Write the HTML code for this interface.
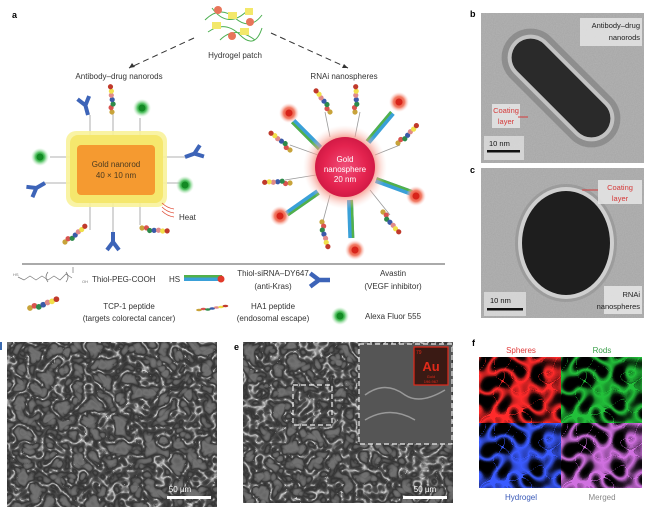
<!DOCTYPE html>
<html><head><meta charset="utf-8"><style>
html,body{margin:0;padding:0;background:#fff;width:650px;height:516px;overflow:hidden}
svg{display:block}
text{font-family:"Liberation Sans",sans-serif}
</style></head><body>
<svg width="650" height="516" viewBox="0 0 650 516" xmlns="http://www.w3.org/2000/svg">
<defs>
<filter id="tem" x="0" y="0" width="100%" height="100%" color-interpolation-filters="sRGB">
 <feTurbulence type="fractalNoise" baseFrequency="0.9" numOctaves="2" seed="3"/>
 <feColorMatrix type="matrix" values="0 0 0 0 0.62  0 0 0 0 0.62  0 0 0 0 0.62  0.7 0 0 0 0"/>
</filter>
<filter id="sem" x="0" y="0" width="100%" height="100%" color-interpolation-filters="sRGB">
 <feTurbulence type="turbulence" baseFrequency="0.07" numOctaves="2" seed="7" result="t"/>
 <feColorMatrix in="t" type="matrix" values="1 0 0 0 0  1 0 0 0 0  1 0 0 0 0  0 0 0 0 1" result="g"/>
 <feComponentTransfer in="g"><feFuncR type="table" tableValues="0.85 0.3 0.2 0.38 0.45 0.43 0.4 0.38 0.36"/><feFuncG type="table" tableValues="0.85 0.3 0.2 0.38 0.45 0.43 0.4 0.38 0.36"/><feFuncB type="table" tableValues="0.85 0.3 0.2 0.38 0.45 0.43 0.4 0.38 0.36"/></feComponentTransfer>
</filter>
<filter id="netR" x="0" y="0" width="100%" height="100%" color-interpolation-filters="sRGB">
 <feTurbulence type="turbulence" baseFrequency="0.06" numOctaves="1" seed="11" result="t"/>
 <feColorMatrix in="t" type="matrix" values="1 0 0 0 0  1 0 0 0 0  1 0 0 0 0  0 0 0 0 1" result="g"/>
 <feComponentTransfer in="g"><feFuncR type="table" tableValues="1 0.7 0.15 0 0 0 0 0 0 0"/><feFuncG type="table" tableValues="1 0.7 0.15 0 0 0 0 0 0 0"/><feFuncB type="table" tableValues="1 0.7 0.15 0 0 0 0 0 0 0"/></feComponentTransfer>
</filter>
<g id="ab"><path d="M0 0 V-10 M0 -10 L-6 -18 M0 -10 L6 -18" stroke="#3d64b8" stroke-width="4" fill="none"/></g>
<g id="beads">
 <circle cx="0" cy="0" r="2.6" fill="#c8a33a"/><circle cx="4" cy="-2" r="2.6" fill="#d9534f"/><circle cx="8" cy="-1" r="2.6" fill="#2d8a4a"/><circle cx="12" cy="-3" r="2.6" fill="#3a5aa8"/><circle cx="16" cy="-5" r="2.6" fill="#e08a8a"/><circle cx="20" cy="-6" r="2.6" fill="#f1e04a"/><circle cx="24" cy="-8" r="2.6" fill="#c0392b"/>
</g>
<radialGradient id="gs"><stop offset="0" stop-color="#1a8a2e"/><stop offset="0.5" stop-color="#4cbf5c"/><stop offset="1" stop-color="#b9e8bd" stop-opacity="0"/></radialGradient>
<radialGradient id="rs"><stop offset="0" stop-color="#e23a2a"/><stop offset="0.55" stop-color="#f27a63"/><stop offset="1" stop-color="#fbd0c8" stop-opacity="0"/></radialGradient>
<radialGradient id="sph"><stop offset="0" stop-color="#f0507a"/><stop offset="0.7" stop-color="#e4234f"/><stop offset="1" stop-color="#d21a45"/></radialGradient>
<radialGradient id="sphg"><stop offset="0.6" stop-color="#f26a5a"/><stop offset="1" stop-color="#fbd4c8" stop-opacity="0"/></radialGradient>
<g id="gstar"><circle r="9" fill="url(#gs)"/><circle r="3.5" fill="#138a24"/></g>
<g id="rstar"><circle r="10" fill="url(#rs)"/><circle r="3.5" fill="#d8241a"/></g>
<g id="sirna"><rect x="0" y="-3" width="38" height="6" fill="#3aa0d8"/><rect x="0" y="-3" width="38" height="2.5" fill="#52b04a"/></g>
</defs>

<text x="12" y="18" font-size="9" font-weight="bold">a</text>
<g stroke="#4caf50" stroke-width="1" fill="none">
<path d="M205 20 Q220 5 235 18 T262 15 M208 32 Q225 20 240 35 T262 28 M212 8 Q228 30 248 10 M220 40 Q235 25 255 40"/>
</g>
<rect x="228" y="12" width="9" height="7" fill="#f3e86a"/><rect x="240" y="28" width="9" height="7" fill="#f3e86a"/><rect x="212" y="22" width="9" height="7" fill="#f3e86a"/><rect x="245" y="8" width="8" height="7" fill="#f3e86a"/>
<circle cx="218" cy="10" r="4" fill="#e8755a"/><circle cx="250" cy="22" r="4" fill="#e8755a"/><circle cx="232" cy="36" r="4" fill="#e8755a"/>
<text x="235" y="58" font-size="8" fill="#333" text-anchor="middle">Hydrogel patch</text>
<path d="M194 38 L129 68" stroke="#333" stroke-width="1" stroke-dasharray="6 4"/>
<path d="M129 68 l6 -1 l-3 -4z" fill="#333"/>
<path d="M271 33 L348 68" stroke="#333" stroke-width="1" stroke-dasharray="6 4"/>
<path d="M348 68 l-6 0 l2 -4z" fill="#333"/>
<text x="119" y="79" font-size="8" fill="#333" text-anchor="middle">Antibody–drug nanorods</text>
<text x="344" y="79" font-size="8" fill="#333" text-anchor="middle">RNAi nanospheres</text>

<g stroke="#999" stroke-width="0.8">
<path d="M90 115 V135 M113 112 V135 M140 118 V135 M163 157 H185 M163 183 H180 M70 157 H50 M70 183 H45 M90 203 V230 M113 203 V235 M140 203 V225"/>
</g>
<rect x="66" y="131" width="101" height="76" rx="10" fill="#f8f29a" opacity="0.9"/>
<rect x="70" y="135" width="93" height="68" rx="8" fill="#f2e04a" opacity="0.6"/>
<rect x="77" y="145" width="78" height="50" rx="4" fill="#f59a30"/>
<text x="116" y="167" font-size="8" fill="#4a3a20" text-anchor="middle">Gold nanorod</text>
<text x="116" y="178" font-size="8" fill="#4a3a20" text-anchor="middle">40 × 10 nm</text>
<use href="#ab" transform="translate(88,115) rotate(-15)"/>
<use href="#beads" transform="translate(112,112) rotate(-75)"/>
<use href="#gstar" x="142" y="108"/>
<use href="#ab" transform="translate(185,157) rotate(70)"/>
<use href="#gstar" x="40" y="157"/>
<use href="#ab" transform="translate(45,183) rotate(-120)"/>
<use href="#gstar" x="185" y="185"/>
<use href="#beads" transform="translate(65,242) rotate(-20)"/>
<use href="#ab" transform="translate(113,232) rotate(180)"/>
<use href="#beads" transform="translate(142,228) rotate(25)"/>
<g stroke="#e0503a" stroke-width="0.8" fill="none"><path d="M162 203 q5 5 12 6 M162 207 q5 5 12 6 M162 211 q5 5 12 6"/></g>
<text x="179" y="220" font-size="8" fill="#333">Heat</text>

<g stroke="#999" stroke-width="0.8">
<path d="M330 137 L325 112 M355 137 L360 112 M318 155 L290 145 M316 175 L285 180 M375 155 L400 145 M370 190 L390 215 M330 195 L322 225"/>
</g>
<use href="#sirna" transform="translate(320,148) rotate(-135)"/>
<use href="#rstar" x="289" y="113"/>
<use href="#sirna" transform="translate(368,142) rotate(-50)"/>
<use href="#rstar" x="399" y="102"/>
<use href="#sirna" transform="translate(376,180) rotate(20)"/>
<use href="#rstar" x="416" y="196"/>
<use href="#sirna" transform="translate(318,192) rotate(145)"/>
<use href="#rstar" x="280" y="216"/>
<use href="#sirna" transform="translate(350,200) rotate(88)"/>
<use href="#rstar" x="355" y="250"/>
<circle cx="345" cy="167" r="42" fill="url(#sphg)"/>
<circle cx="345" cy="167" r="30" fill="url(#sph)"/>
<text x="345" y="162" font-size="8" fill="#fff" text-anchor="middle">Gold</text>
<text x="345" y="172" font-size="8" fill="#fff" text-anchor="middle">nanosphere</text>
<text x="345" y="182" font-size="8" fill="#fff" text-anchor="middle">20 nm</text>
<use href="#beads" transform="translate(330,112) rotate(-105)"/>
<use href="#beads" transform="translate(355,112) rotate(-70)"/>
<use href="#beads" transform="translate(290,150) rotate(-120)"/>
<use href="#beads" transform="translate(290,183) rotate(-160)"/>
<use href="#beads" transform="translate(398,143) rotate(-25)"/>
<use href="#beads" transform="translate(383,212) rotate(70)"/>
<use href="#beads" transform="translate(322,222) rotate(95)"/>

<line x1="22" y1="264" x2="445" y2="264" stroke="#555" stroke-width="1"/>
<path d="M18 277 l6 3 l6 -4 l6 4 l6 -4 l6 4 l6 -4 l6 4 l6 -6 l6 4 M48 272 q-4 5 0 10 M66 272 q4 5 0 10 M73 273 v-6" stroke="#777" stroke-width="0.7" fill="none"/>
<text x="13" y="276" font-size="4" fill="#777">HS</text><text x="82" y="283" font-size="4" fill="#777">OH</text>
<text x="92" y="282" font-size="8" fill="#333">Thiol-PEG-COOH</text>
<text x="169" y="282" font-size="8" fill="#333">HS</text>
<use href="#sirna" transform="translate(184,278)"/>
<circle cx="221" cy="279" r="3.5" fill="#e23a2a"/>
<text x="273" y="276" font-size="8" fill="#333" text-anchor="middle">Thiol-siRNA–DY647</text>
<text x="273" y="289" font-size="8" fill="#333" text-anchor="middle">(anti-Kras)</text>
<use href="#ab" transform="translate(330,280) rotate(-90) scale(1.1)"/>
<text x="393" y="276" font-size="8" fill="#333" text-anchor="middle">Avastin</text>
<text x="393" y="289" font-size="8" fill="#333" text-anchor="middle">(VEGF inhibitor)</text>
<use href="#beads" transform="translate(30,308) scale(1.1)"/>
<text x="129" y="309" font-size="8" fill="#333" text-anchor="middle">TCP-1 peptide</text>
<text x="129" y="321" font-size="8" fill="#333" text-anchor="middle">(targets colorectal cancer)</text>
<use href="#beads" transform="translate(199,310) scale(1.1,0.5)"/>
<text x="273" y="309" font-size="8" fill="#333" text-anchor="middle">HA1 peptide</text>
<text x="273" y="321" font-size="8" fill="#333" text-anchor="middle">(endosomal escape)</text>
<use href="#gstar" x="340" y="316"/>
<text x="365" y="319" font-size="8" fill="#333">Alexa Fluor 555</text>

<text x="470" y="17" font-size="9" font-weight="bold">b</text>
<rect x="481" y="13" width="163" height="150" fill="#b4b4b4"/>
<rect x="481" y="13" width="163" height="150" filter="url(#tem)"/>
<g transform="translate(561,88) rotate(45)">
<rect x="-72" y="-29" width="144" height="58" rx="29" fill="#7a7a7a" opacity="0.6"/>
<rect x="-66" y="-23" width="132" height="46" rx="23" fill="#d8d8d8" opacity="0.7"/>
<rect x="-62" y="-19" width="124" height="38" rx="19" fill="#2a2a2a"/>
</g>
<rect x="580" y="18" width="62" height="28" fill="#e4e4e4" opacity="0.85"/>
<text x="640" y="28" font-size="7.5" fill="#222" text-anchor="end">Antibody–drug</text>
<text x="640" y="40" font-size="7.5" fill="#222" text-anchor="end">nanorods</text>
<rect x="492" y="104" width="28" height="24" fill="#e6e6e6" opacity="0.85"/>
<text x="506" y="113" font-size="7.5" fill="#d53a3a" text-anchor="middle">Coating</text>
<text x="506" y="124" font-size="7.5" fill="#d53a3a" text-anchor="middle">layer</text>
<path d="M518 117 h10" stroke="#d53a3a" stroke-width="1"/>
<rect x="484" y="136" width="40" height="24" fill="#e6e6e6" opacity="0.7"/>
<text x="489" y="146" font-size="7.5" fill="#111">10 nm</text>
<rect x="487" y="150" width="33" height="2.5" fill="#111"/>

<text x="470" y="173" font-size="9" font-weight="bold">c</text>
<rect x="481" y="168" width="163" height="150" fill="#b4b4b4"/>
<rect x="481" y="168" width="163" height="150" filter="url(#tem)"/>
<ellipse cx="566" cy="243" rx="51" ry="59" fill="#8c8c8c" opacity="0.5"/>
<ellipse cx="566" cy="243" rx="48" ry="56" fill="#dcdcdc" opacity="0.8"/>
<ellipse cx="566" cy="243" rx="44" ry="52" fill="#1e1e1e"/>
<rect x="598" y="180" width="44" height="24" fill="#e6e6e6" opacity="0.85"/>
<text x="620" y="190" font-size="7.5" fill="#d53a3a" text-anchor="middle">Coating</text>
<text x="620" y="201" font-size="7.5" fill="#d53a3a" text-anchor="middle">layer</text>
<path d="M582 190 h16" stroke="#d53a3a" stroke-width="1"/>
<rect x="604" y="286" width="38" height="28" fill="#e6e6e6" opacity="0.85"/>
<text x="640" y="297" font-size="7.5" fill="#222" text-anchor="end">RNAi</text>
<text x="640" y="309" font-size="7.5" fill="#222" text-anchor="end">nanospheres</text>
<rect x="484" y="292" width="42" height="24" fill="#e6e6e6" opacity="0.7"/>
<text x="490" y="303" font-size="7.5" fill="#111">10 nm</text>
<rect x="487" y="308" width="36" height="2.5" fill="#111"/>

<rect x="7" y="342" width="210" height="165" fill="#555"/>
<rect x="7" y="342" width="210" height="165" filter="url(#sem)"/>
<rect x="0" y="342" width="2" height="8" fill="#3a6ab0"/>
<text x="180" y="492" font-size="8" fill="#fff" text-anchor="middle">50 µm</text>
<rect x="167" y="496" width="44" height="3" fill="#fff"/>

<text x="234" y="350" font-size="9" font-weight="bold">e</text>
<rect x="243" y="342" width="210" height="161" fill="#555"/>
<rect x="243" y="342" width="210" height="161" filter="url(#sem)"/>
<rect x="359" y="344" width="93" height="100" fill="#555"/>
<path d="M365 395 q20 -15 40 0 q15 10 40 -5 M365 420 q25 -15 50 0" stroke="#999" stroke-width="1.5" fill="none"/>
<rect x="359" y="344" width="93" height="100" fill="none" stroke="#eee" stroke-width="1.2" stroke-dasharray="5 3"/>
<rect x="293" y="385" width="39" height="40" fill="none" stroke="#eee" stroke-width="1.2" stroke-dasharray="5 3"/>
<rect x="414" y="347" width="34" height="38" fill="#3a1a14" stroke="#e02a1a" stroke-width="1.2"/>
<text x="416" y="354" font-size="5" fill="#e02a1a">79</text>
<text x="431" y="371" font-size="13" font-weight="bold" fill="#e02a1a" text-anchor="middle">Au</text>
<text x="431" y="378" font-size="4" fill="#e02a1a" text-anchor="middle">Gold</text>
<text x="431" y="383" font-size="4" fill="#e02a1a" text-anchor="middle">196.967</text>
<text x="425" y="492" font-size="8" fill="#fff" text-anchor="middle">50 µm</text>
<rect x="403" y="496" width="44" height="3" fill="#fff"/>

<text x="472" y="346" font-size="9" font-weight="bold">f</text>
<text x="521" y="353" font-size="8" fill="#e23a3a" text-anchor="middle">Spheres</text>
<text x="602" y="353" font-size="8" fill="#3aa04a" text-anchor="middle">Rods</text>
<rect x="479" y="357" width="163" height="131" fill="#000"/>
<svg x="479" y="357" width="82" height="66"><rect width="82" height="66" fill="#000"/><rect width="82" height="66" filter="url(#netR)"/><rect width="82" height="66" fill="#ff2a2a" style="mix-blend-mode:multiply"/></svg>
<svg x="561" y="357" width="81" height="66"><rect width="81" height="66" fill="#000"/><rect width="81" height="66" filter="url(#netR)"/><rect width="81" height="66" fill="#22c03a" style="mix-blend-mode:multiply"/></svg>
<svg x="479" y="423" width="82" height="65"><rect width="82" height="65" fill="#000"/><rect width="82" height="65" filter="url(#netR)"/><rect width="82" height="65" fill="#3a5aff" style="mix-blend-mode:multiply"/></svg>
<svg x="561" y="423" width="81" height="65"><rect width="81" height="65" fill="#000"/><rect width="81" height="65" filter="url(#netR)"/><rect width="81" height="65" fill="#d070e0" style="mix-blend-mode:multiply"/></svg>
<text x="521" y="500" font-size="8" fill="#3a5ab8" text-anchor="middle">Hydrogel</text>
<text x="602" y="500" font-size="8" fill="#888" text-anchor="middle">Merged</text>
</svg>
</body></html>
